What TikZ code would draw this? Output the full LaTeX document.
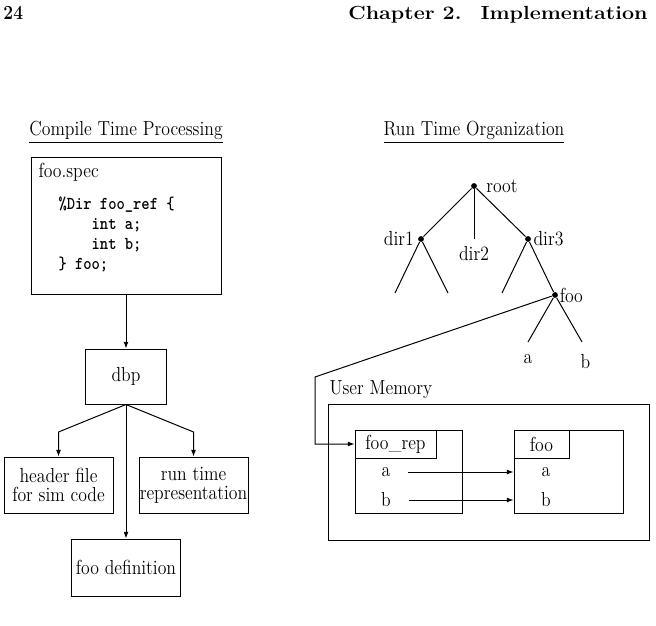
\documentclass[tikz,border=0pt]{standalone}
\usepackage{fontspec}
\setmainfont{Latin Modern Roman}[FakeStretch=0.87]
\setmonofont{Latin Modern Mono Light}[FakeStretch=0.87]
\newfontfamily\testata{Latin Modern Roman}[FakeStretch=1.13]
\usetikzlibrary{positioning,arrows.meta}

\begin{document}
\begin{tikzpicture}[x=0.6pt,y=-0.6pt,>={Latex[length=4pt,width=3pt]},line width=0.6pt,
    every node/.style={font=\fontsize{12.2}{11.6}\selectfont},
    box/.style={draw, inner sep=0pt, align=center},
    dim/.style 2 args={minimum width=#1*0.6pt, minimum height=#2*0.6pt},
    punto/.style={circle, fill, inner sep=0pt, minimum size=3.5pt},
    codice/.style={font=\fontsize{10.9}{12}\selectfont\ttfamily\bfseries, align=left}]
    % --- Pagina ---
    \useasboundingbox (0,0) rectangle (656,625);
    \node[anchor=base west, inner sep=0pt, font=\fontsize{12}{12}\selectfont\bfseries] (pagina) at (3,20) {24};
    \node[anchor=base east, inner sep=0pt, font=\fontsize{11.4}{12}\selectfont\testata\bfseries] (capitolo) at (648,20) {Chapter 2.\quad Implementation};

    % --- Compile Time Processing ---
    \node[anchor=base] (titolo1) at (126,136) {\underline{Compile Time Processing}};
    \node[box, dim={190}{136}] (spec) at (126,226) {};
    \node[anchor=base west, inner sep=0pt] (nomespec) at (38,178) {foo.spec};
    \node[codice, anchor=north west, inner sep=0pt] (codice) at (58,196)
        {\%Dir foo\_ref \{\\\phantom{xxxx}int a;\\\phantom{xxxx}int b;\\\} foo;};
    \node[box, dim={81}{55}] (dbp) at (126,376.5) {dbp};
    \node[box, dim={109}{56}] (header) at (58.5,485) {header file\\for sim code};
    \node[box, dim={109}{56}] (runtime) at (193.5,485) {run time\\representation};
    \node[box, dim={109}{57}] (fooDef) at (126,567.5) {foo definition};
    \coordinate (diramazione) at (0,432);

    \draw[->] (spec) -- (dbp);
    \draw[->] (dbp.south) -- (header.north |- diramazione) -- (header.north);
    \draw[->] (dbp.south) -- (runtime.north |- diramazione) -- (runtime.north);
    \draw[->] (dbp.south) -- (fooDef.north);

    % --- Run Time Organization ---
    \node[anchor=base] (titolo2) at (474,136) {\underline{Run Time Organization}};
    \node[punto, label={[inner sep=5pt]right:root}] (root) at (474,186) {};
    \node[punto, label={[inner sep=2pt]left:dir1}] (dir1) at (421,239) {};
    \node[punto, label={[inner sep=1pt]right:dir3}] (dir3) at (528,239) {};
    \node[punto, label={[inner sep=0.5pt]right:foo}] (foo) at (555,295) {};
    \coordinate (fine2) at (474,239);
    \coordinate (foglia1) at (395,293);
    \coordinate (foglia2) at (448,293);
    \coordinate (foglia3) at (502,293);
    \coordinate (finea) at (528,342);
    \coordinate (fineb) at (582,342);
    \node[below=1pt of fine2] (dir2) {dir2};
    \node[below=4pt of finea] (foglia a) {a};
    \node[below=4pt of fineb, xshift=2pt] (foglia b) {b};

    \draw (root) -- (dir1);
    \draw (root) -- (fine2);
    \draw (root) -- (dir3);
    \draw (dir1) -- (foglia1);
    \draw (dir1) -- (foglia2);
    \draw (dir3) -- (foglia3);
    \draw (dir3) -- (foo);
    \draw (foo) -- (finea);
    \draw (foo) -- (fineb);

    % --- User Memory ---
    \node[box, dim={321}{136}] (memoria) at (488.5,472) {};
    \node[anchor=south west, inner xsep=1pt, inner ysep=2.5pt] (nomememoria) at (memoria.north west) {User Memory};

    \node[box, dim={107}{83}] (rep) at (408.5,471.5) {};
    \node[box, dim={81}{28}] (nomerep) at (395.5,444) {foo\_rep};
    \node (repa) at (386,472) {a};
    \node (repb) at (386,500) {b};

    \node[box, dim={109}{83}] (struttura) at (568.5,471.5) {};
    \node[box, dim={55}{28}] (nomestruttura) at (541.5,444) {foo};
    \node (strutturaa) at (546,472) {a};
    \node (strutturab) at (546,500) {b};

    \coordinate (gomito) at (315,377);
    \draw[->] (foo) -- (gomito) |- (nomerep.west);
    \draw[->, shorten <=7pt] (repa.east) -- (repa -| struttura.west);
    \draw[->, shorten <=7pt] (repb.east) -- (repb -| struttura.west);
\end{tikzpicture}
\end{document}
